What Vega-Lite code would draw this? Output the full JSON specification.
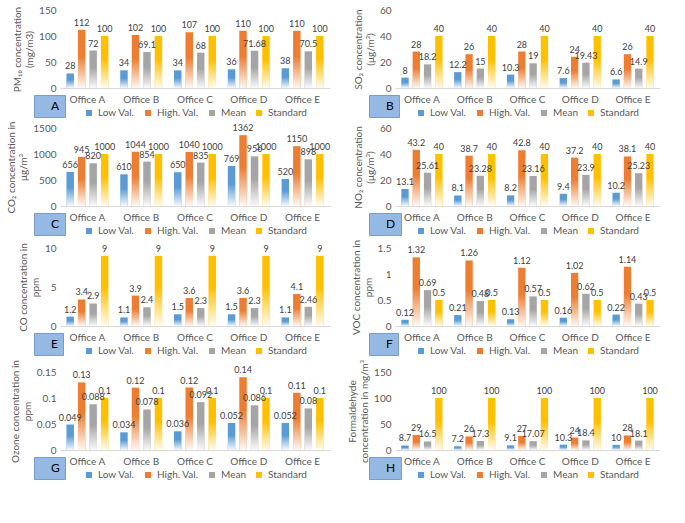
{
  "$schema": "https://vega.github.io/schema/vega-lite/v6.json",
  "background": "white",
  "padding": {"left": 6, "top": 5, "right": 6, "bottom": 4},
  "data": {"values": [
    {"panel":"A","office":"Office A","series":"Low Val.","value":28},{"panel":"A","office":"Office A","series":"High. Val.","value":112},{"panel":"A","office":"Office A","series":"Mean","value":72},{"panel":"A","office":"Office A","series":"Standard","value":100},
    {"panel":"A","office":"Office B","series":"Low Val.","value":34},{"panel":"A","office":"Office B","series":"High. Val.","value":102},{"panel":"A","office":"Office B","series":"Mean","value":69.1},{"panel":"A","office":"Office B","series":"Standard","value":100},
    {"panel":"A","office":"Office C","series":"Low Val.","value":34},{"panel":"A","office":"Office C","series":"High. Val.","value":107},{"panel":"A","office":"Office C","series":"Mean","value":68},{"panel":"A","office":"Office C","series":"Standard","value":100},
    {"panel":"A","office":"Office D","series":"Low Val.","value":36},{"panel":"A","office":"Office D","series":"High. Val.","value":110},{"panel":"A","office":"Office D","series":"Mean","value":71.68},{"panel":"A","office":"Office D","series":"Standard","value":100},
    {"panel":"A","office":"Office E","series":"Low Val.","value":38},{"panel":"A","office":"Office E","series":"High. Val.","value":110},{"panel":"A","office":"Office E","series":"Mean","value":70.5},{"panel":"A","office":"Office E","series":"Standard","value":100},

    {"panel":"B","office":"Office A","series":"Low Val.","value":8},{"panel":"B","office":"Office A","series":"High. Val.","value":28},{"panel":"B","office":"Office A","series":"Mean","value":18.2},{"panel":"B","office":"Office A","series":"Standard","value":40},
    {"panel":"B","office":"Office B","series":"Low Val.","value":12.2},{"panel":"B","office":"Office B","series":"High. Val.","value":26},{"panel":"B","office":"Office B","series":"Mean","value":15},{"panel":"B","office":"Office B","series":"Standard","value":40},
    {"panel":"B","office":"Office C","series":"Low Val.","value":10.3},{"panel":"B","office":"Office C","series":"High. Val.","value":28},{"panel":"B","office":"Office C","series":"Mean","value":19},{"panel":"B","office":"Office C","series":"Standard","value":40},
    {"panel":"B","office":"Office D","series":"Low Val.","value":7.6},{"panel":"B","office":"Office D","series":"High. Val.","value":24},{"panel":"B","office":"Office D","series":"Mean","value":19.43},{"panel":"B","office":"Office D","series":"Standard","value":40},
    {"panel":"B","office":"Office E","series":"Low Val.","value":6.6},{"panel":"B","office":"Office E","series":"High. Val.","value":26},{"panel":"B","office":"Office E","series":"Mean","value":14.9},{"panel":"B","office":"Office E","series":"Standard","value":40},

    {"panel":"C","office":"Office A","series":"Low Val.","value":656},{"panel":"C","office":"Office A","series":"High. Val.","value":945},{"panel":"C","office":"Office A","series":"Mean","value":820},{"panel":"C","office":"Office A","series":"Standard","value":1000},
    {"panel":"C","office":"Office B","series":"Low Val.","value":610},{"panel":"C","office":"Office B","series":"High. Val.","value":1044},{"panel":"C","office":"Office B","series":"Mean","value":854},{"panel":"C","office":"Office B","series":"Standard","value":1000},
    {"panel":"C","office":"Office C","series":"Low Val.","value":650},{"panel":"C","office":"Office C","series":"High. Val.","value":1040},{"panel":"C","office":"Office C","series":"Mean","value":835},{"panel":"C","office":"Office C","series":"Standard","value":1000},
    {"panel":"C","office":"Office D","series":"Low Val.","value":769},{"panel":"C","office":"Office D","series":"High. Val.","value":1362},{"panel":"C","office":"Office D","series":"Mean","value":956},{"panel":"C","office":"Office D","series":"Standard","value":1000},
    {"panel":"C","office":"Office E","series":"Low Val.","value":520},{"panel":"C","office":"Office E","series":"High. Val.","value":1150},{"panel":"C","office":"Office E","series":"Mean","value":898},{"panel":"C","office":"Office E","series":"Standard","value":1000},

    {"panel":"D","office":"Office A","series":"Low Val.","value":13.1},{"panel":"D","office":"Office A","series":"High. Val.","value":43.2},{"panel":"D","office":"Office A","series":"Mean","value":25.61},{"panel":"D","office":"Office A","series":"Standard","value":40},
    {"panel":"D","office":"Office B","series":"Low Val.","value":8.1},{"panel":"D","office":"Office B","series":"High. Val.","value":38.7},{"panel":"D","office":"Office B","series":"Mean","value":23.28},{"panel":"D","office":"Office B","series":"Standard","value":40},
    {"panel":"D","office":"Office C","series":"Low Val.","value":8.2},{"panel":"D","office":"Office C","series":"High. Val.","value":42.8},{"panel":"D","office":"Office C","series":"Mean","value":23.16},{"panel":"D","office":"Office C","series":"Standard","value":40},
    {"panel":"D","office":"Office D","series":"Low Val.","value":9.4},{"panel":"D","office":"Office D","series":"High. Val.","value":37.2},{"panel":"D","office":"Office D","series":"Mean","value":23.9},{"panel":"D","office":"Office D","series":"Standard","value":40},
    {"panel":"D","office":"Office E","series":"Low Val.","value":10.2},{"panel":"D","office":"Office E","series":"High. Val.","value":38.1},{"panel":"D","office":"Office E","series":"Mean","value":25.23},{"panel":"D","office":"Office E","series":"Standard","value":40},

    {"panel":"E","office":"Office A","series":"Low Val.","value":1.2},{"panel":"E","office":"Office A","series":"High. Val.","value":3.4},{"panel":"E","office":"Office A","series":"Mean","value":2.9},{"panel":"E","office":"Office A","series":"Standard","value":9},
    {"panel":"E","office":"Office B","series":"Low Val.","value":1.1},{"panel":"E","office":"Office B","series":"High. Val.","value":3.9},{"panel":"E","office":"Office B","series":"Mean","value":2.4},{"panel":"E","office":"Office B","series":"Standard","value":9},
    {"panel":"E","office":"Office C","series":"Low Val.","value":1.5},{"panel":"E","office":"Office C","series":"High. Val.","value":3.6},{"panel":"E","office":"Office C","series":"Mean","value":2.3},{"panel":"E","office":"Office C","series":"Standard","value":9},
    {"panel":"E","office":"Office D","series":"Low Val.","value":1.5},{"panel":"E","office":"Office D","series":"High. Val.","value":3.6},{"panel":"E","office":"Office D","series":"Mean","value":2.3},{"panel":"E","office":"Office D","series":"Standard","value":9},
    {"panel":"E","office":"Office E","series":"Low Val.","value":1.1},{"panel":"E","office":"Office E","series":"High. Val.","value":4.1},{"panel":"E","office":"Office E","series":"Mean","value":2.46},{"panel":"E","office":"Office E","series":"Standard","value":9},

    {"panel":"F","office":"Office A","series":"Low Val.","value":0.12},{"panel":"F","office":"Office A","series":"High. Val.","value":1.32},{"panel":"F","office":"Office A","series":"Mean","value":0.69},{"panel":"F","office":"Office A","series":"Standard","value":0.5},
    {"panel":"F","office":"Office B","series":"Low Val.","value":0.21},{"panel":"F","office":"Office B","series":"High. Val.","value":1.26},{"panel":"F","office":"Office B","series":"Mean","value":0.48},{"panel":"F","office":"Office B","series":"Standard","value":0.5},
    {"panel":"F","office":"Office C","series":"Low Val.","value":0.13},{"panel":"F","office":"Office C","series":"High. Val.","value":1.12},{"panel":"F","office":"Office C","series":"Mean","value":0.57},{"panel":"F","office":"Office C","series":"Standard","value":0.5},
    {"panel":"F","office":"Office D","series":"Low Val.","value":0.16},{"panel":"F","office":"Office D","series":"High. Val.","value":1.02},{"panel":"F","office":"Office D","series":"Mean","value":0.62},{"panel":"F","office":"Office D","series":"Standard","value":0.5},
    {"panel":"F","office":"Office E","series":"Low Val.","value":0.22},{"panel":"F","office":"Office E","series":"High. Val.","value":1.14},{"panel":"F","office":"Office E","series":"Mean","value":0.43},{"panel":"F","office":"Office E","series":"Standard","value":0.5},

    {"panel":"G","office":"Office A","series":"Low Val.","value":0.049},{"panel":"G","office":"Office A","series":"High. Val.","value":0.13},{"panel":"G","office":"Office A","series":"Mean","value":0.088},{"panel":"G","office":"Office A","series":"Standard","value":0.1},
    {"panel":"G","office":"Office B","series":"Low Val.","value":0.034},{"panel":"G","office":"Office B","series":"High. Val.","value":0.12},{"panel":"G","office":"Office B","series":"Mean","value":0.078},{"panel":"G","office":"Office B","series":"Standard","value":0.1},
    {"panel":"G","office":"Office C","series":"Low Val.","value":0.036},{"panel":"G","office":"Office C","series":"High. Val.","value":0.12},{"panel":"G","office":"Office C","series":"Mean","value":0.092},{"panel":"G","office":"Office C","series":"Standard","value":0.1},
    {"panel":"G","office":"Office D","series":"Low Val.","value":0.052},{"panel":"G","office":"Office D","series":"High. Val.","value":0.14},{"panel":"G","office":"Office D","series":"Mean","value":0.086},{"panel":"G","office":"Office D","series":"Standard","value":0.1},
    {"panel":"G","office":"Office E","series":"Low Val.","value":0.052},{"panel":"G","office":"Office E","series":"High. Val.","value":0.11},{"panel":"G","office":"Office E","series":"Mean","value":0.08},{"panel":"G","office":"Office E","series":"Standard","value":0.1},

    {"panel":"H","office":"Office A","series":"Low Val.","value":8.7},{"panel":"H","office":"Office A","series":"High. Val.","value":29},{"panel":"H","office":"Office A","series":"Mean","value":16.5},{"panel":"H","office":"Office A","series":"Standard","value":100},
    {"panel":"H","office":"Office B","series":"Low Val.","value":7.2},{"panel":"H","office":"Office B","series":"High. Val.","value":26},{"panel":"H","office":"Office B","series":"Mean","value":17.3},{"panel":"H","office":"Office B","series":"Standard","value":100},
    {"panel":"H","office":"Office C","series":"Low Val.","value":9.1},{"panel":"H","office":"Office C","series":"High. Val.","value":27},{"panel":"H","office":"Office C","series":"Mean","value":17.07},{"panel":"H","office":"Office C","series":"Standard","value":100},
    {"panel":"H","office":"Office D","series":"Low Val.","value":10.3},{"panel":"H","office":"Office D","series":"High. Val.","value":24},{"panel":"H","office":"Office D","series":"Mean","value":18.4},{"panel":"H","office":"Office D","series":"Standard","value":100},
    {"panel":"H","office":"Office E","series":"Low Val.","value":10},{"panel":"H","office":"Office E","series":"High. Val.","value":28},{"panel":"H","office":"Office E","series":"Mean","value":18.1},{"panel":"H","office":"Office E","series":"Standard","value":100}
  ]},
  "columns": 2,
  "spacing": {"row": 3, "column": 16},
  "resolve": {
    "scale": {"color": "independent", "y": "independent", "x": "independent", "xOffset": "independent", "opacity": "independent"},
    "legend": {"color": "independent", "opacity": "independent"}
  },
  "concat": [
    {
      "width": 270, "height": 78,
      "transform": [{"filter": "datum.panel === 'A'"}],
      "encoding": {
        "x": {"field": "office", "type": "nominal", "axis": {"title": null, "labelAngle": 0}, "scale": {"paddingInner": 0.22, "paddingOuter": 0.12}},
        "xOffset": {"field": "series", "type": "nominal", "sort": ["Low Val.", "High. Val.", "Mean", "Standard"], "scale": {"paddingInner": 0.35}},
        "y": {"field": "value", "type": "quantitative", "scale": {"domain": [0, 150]}, "axis": {"values": [0, 50, 100, 150], "format": "d", "title": ["PM₁₀ concentration", "(mg/m3)"]}}
      },
      "layer": [
        {"mark": {"type": "bar"}, "encoding": {"color": {"field": "series", "type": "nominal", "sort": ["Low Val.", "High. Val.", "Mean", "Standard"], "scale": {"domain": ["Low Val.", "High. Val.", "Mean", "Standard"], "range": ["#5B9BD5", "#ED7D31", "#A5A5A5", "#FFC000"]}, "legend": {"title": null}}}},
        {"mark": {"type": "bar", "color": {"gradient": "linear", "x1": 0, "y1": 0, "x2": 0, "y2": 1, "stops": [{"offset": 0, "color": "rgba(255,255,255,0)"}, {"offset": 0.45, "color": "rgba(255,255,255,0)"}, {"offset": 1, "color": "rgba(255,255,255,0.95)"}]}},
         "encoding": {"opacity": {"field": "panel", "type": "ordinal", "scale": {"range": [1, 1]}, "legend": {"title": null, "orient": "none", "legendX": -26, "legendY": 85, "direction": "vertical", "symbolSize": 0, "symbolStrokeWidth": 0, "symbolOpacity": 0, "labelOffset": 0, "labelFontSize": 12, "labelColor": "#000000", "fillColor": "#95B9E3", "strokeColor": "#7A9CC8", "padding": 5}}}},
        {"mark": {"type": "text", "dy": -7, "fontSize": 9, "color": "#404040"}, "encoding": {"text": {"field": "value", "type": "quantitative", "format": "~g"}}}
      ]
    },
    {
      "width": 265, "height": 78,
      "transform": [{"filter": "datum.panel === 'B'"}],
      "encoding": {
        "x": {"field": "office", "type": "nominal", "axis": {"title": null, "labelAngle": 0}, "scale": {"paddingInner": 0.22, "paddingOuter": 0.12}},
        "xOffset": {"field": "series", "type": "nominal", "sort": ["Low Val.", "High. Val.", "Mean", "Standard"], "scale": {"paddingInner": 0.35}},
        "y": {"field": "value", "type": "quantitative", "scale": {"domain": [0, 60]}, "axis": {"values": [0, 20, 40, 60], "format": "d", "title": ["SO₂ concentration", "(μg/m³)"]}}
      },
      "layer": [
        {"mark": {"type": "bar"}, "encoding": {"color": {"field": "series", "type": "nominal", "sort": ["Low Val.", "High. Val.", "Mean", "Standard"], "scale": {"domain": ["Low Val.", "High. Val.", "Mean", "Standard"], "range": ["#5B9BD5", "#ED7D31", "#A5A5A5", "#FFC000"]}, "legend": {"title": null}}}},
        {"mark": {"type": "bar", "color": {"gradient": "linear", "x1": 0, "y1": 0, "x2": 0, "y2": 1, "stops": [{"offset": 0, "color": "rgba(255,255,255,0)"}, {"offset": 0.45, "color": "rgba(255,255,255,0)"}, {"offset": 1, "color": "rgba(255,255,255,0.95)"}]}},
         "encoding": {"opacity": {"field": "panel", "type": "ordinal", "scale": {"range": [1, 1]}, "legend": {"title": null, "orient": "none", "legendX": -26, "legendY": 85, "direction": "vertical", "symbolSize": 0, "symbolStrokeWidth": 0, "symbolOpacity": 0, "labelOffset": 0, "labelFontSize": 12, "labelColor": "#000000", "fillColor": "#95B9E3", "strokeColor": "#7A9CC8", "padding": 5}}}},
        {"mark": {"type": "text", "dy": -7, "fontSize": 9, "color": "#404040"}, "encoding": {"text": {"field": "value", "type": "quantitative", "format": "~g"}}}
      ]
    },
    {
      "width": 270, "height": 78,
      "transform": [{"filter": "datum.panel === 'C'"}],
      "encoding": {
        "x": {"field": "office", "type": "nominal", "axis": {"title": null, "labelAngle": 0}, "scale": {"paddingInner": 0.22, "paddingOuter": 0.12}},
        "xOffset": {"field": "series", "type": "nominal", "sort": ["Low Val.", "High. Val.", "Mean", "Standard"], "scale": {"paddingInner": 0.35}},
        "y": {"field": "value", "type": "quantitative", "scale": {"domain": [0, 1500]}, "axis": {"values": [0, 500, 1000, 1500], "format": "d", "title": ["CO₂ concentration in", "μg/m³"]}}
      },
      "layer": [
        {"mark": {"type": "bar"}, "encoding": {"color": {"field": "series", "type": "nominal", "sort": ["Low Val.", "High. Val.", "Mean", "Standard"], "scale": {"domain": ["Low Val.", "High. Val.", "Mean", "Standard"], "range": ["#5B9BD5", "#ED7D31", "#A5A5A5", "#FFC000"]}, "legend": {"title": null}}}},
        {"mark": {"type": "bar", "color": {"gradient": "linear", "x1": 0, "y1": 0, "x2": 0, "y2": 1, "stops": [{"offset": 0, "color": "rgba(255,255,255,0)"}, {"offset": 0.45, "color": "rgba(255,255,255,0)"}, {"offset": 1, "color": "rgba(255,255,255,0.95)"}]}},
         "encoding": {"opacity": {"field": "panel", "type": "ordinal", "scale": {"range": [1, 1]}, "legend": {"title": null, "orient": "none", "legendX": -26, "legendY": 85, "direction": "vertical", "symbolSize": 0, "symbolStrokeWidth": 0, "symbolOpacity": 0, "labelOffset": 0, "labelFontSize": 12, "labelColor": "#000000", "fillColor": "#95B9E3", "strokeColor": "#7A9CC8", "padding": 5}}}},
        {"mark": {"type": "text", "dy": -7, "fontSize": 9, "color": "#404040"}, "encoding": {"text": {"field": "value", "type": "quantitative", "format": "~g"}}}
      ]
    },
    {
      "width": 265, "height": 78,
      "transform": [{"filter": "datum.panel === 'D'"}],
      "encoding": {
        "x": {"field": "office", "type": "nominal", "axis": {"title": null, "labelAngle": 0}, "scale": {"paddingInner": 0.22, "paddingOuter": 0.12}},
        "xOffset": {"field": "series", "type": "nominal", "sort": ["Low Val.", "High. Val.", "Mean", "Standard"], "scale": {"paddingInner": 0.35}},
        "y": {"field": "value", "type": "quantitative", "scale": {"domain": [0, 60]}, "axis": {"values": [0, 20, 40, 60], "format": "d", "title": ["NO₂ concentration", "(μg/m³)"]}}
      },
      "layer": [
        {"mark": {"type": "bar"}, "encoding": {"color": {"field": "series", "type": "nominal", "sort": ["Low Val.", "High. Val.", "Mean", "Standard"], "scale": {"domain": ["Low Val.", "High. Val.", "Mean", "Standard"], "range": ["#5B9BD5", "#ED7D31", "#A5A5A5", "#FFC000"]}, "legend": {"title": null}}}},
        {"mark": {"type": "bar", "color": {"gradient": "linear", "x1": 0, "y1": 0, "x2": 0, "y2": 1, "stops": [{"offset": 0, "color": "rgba(255,255,255,0)"}, {"offset": 0.45, "color": "rgba(255,255,255,0)"}, {"offset": 1, "color": "rgba(255,255,255,0.95)"}]}},
         "encoding": {"opacity": {"field": "panel", "type": "ordinal", "scale": {"range": [1, 1]}, "legend": {"title": null, "orient": "none", "legendX": -26, "legendY": 85, "direction": "vertical", "symbolSize": 0, "symbolStrokeWidth": 0, "symbolOpacity": 0, "labelOffset": 0, "labelFontSize": 12, "labelColor": "#000000", "fillColor": "#95B9E3", "strokeColor": "#7A9CC8", "padding": 5}}}},
        {"mark": {"type": "text", "dy": -7, "fontSize": 9, "color": "#404040"}, "encoding": {"text": {"field": "value", "type": "quantitative", "format": "~g"}}}
      ]
    },
    {
      "width": 270, "height": 78,
      "transform": [{"filter": "datum.panel === 'E'"}],
      "encoding": {
        "x": {"field": "office", "type": "nominal", "axis": {"title": null, "labelAngle": 0}, "scale": {"paddingInner": 0.22, "paddingOuter": 0.12}},
        "xOffset": {"field": "series", "type": "nominal", "sort": ["Low Val.", "High. Val.", "Mean", "Standard"], "scale": {"paddingInner": 0.35}},
        "y": {"field": "value", "type": "quantitative", "scale": {"domain": [0, 10]}, "axis": {"values": [0, 5, 10], "format": "d", "title": ["CO concentration in", "ppm"]}}
      },
      "layer": [
        {"mark": {"type": "bar"}, "encoding": {"color": {"field": "series", "type": "nominal", "sort": ["Low Val.", "High. Val.", "Mean", "Standard"], "scale": {"domain": ["Low Val.", "High. Val.", "Mean", "Standard"], "range": ["#5B9BD5", "#ED7D31", "#A5A5A5", "#FFC000"]}, "legend": {"title": null}}}},
        {"mark": {"type": "bar", "color": {"gradient": "linear", "x1": 0, "y1": 0, "x2": 0, "y2": 1, "stops": [{"offset": 0, "color": "rgba(255,255,255,0)"}, {"offset": 0.45, "color": "rgba(255,255,255,0)"}, {"offset": 1, "color": "rgba(255,255,255,0.95)"}]}},
         "encoding": {"opacity": {"field": "panel", "type": "ordinal", "scale": {"range": [1, 1]}, "legend": {"title": null, "orient": "none", "legendX": -26, "legendY": 85, "direction": "vertical", "symbolSize": 0, "symbolStrokeWidth": 0, "symbolOpacity": 0, "labelOffset": 0, "labelFontSize": 12, "labelColor": "#000000", "fillColor": "#95B9E3", "strokeColor": "#7A9CC8", "padding": 5}}}},
        {"mark": {"type": "text", "dy": -7, "fontSize": 9, "color": "#404040"}, "encoding": {"text": {"field": "value", "type": "quantitative", "format": "~g"}}}
      ]
    },
    {
      "width": 265, "height": 78,
      "transform": [{"filter": "datum.panel === 'F'"}],
      "encoding": {
        "x": {"field": "office", "type": "nominal", "axis": {"title": null, "labelAngle": 0}, "scale": {"paddingInner": 0.22, "paddingOuter": 0.12}},
        "xOffset": {"field": "series", "type": "nominal", "sort": ["Low Val.", "High. Val.", "Mean", "Standard"], "scale": {"paddingInner": 0.35}},
        "y": {"field": "value", "type": "quantitative", "scale": {"domain": [0, 1.5]}, "axis": {"values": [0, 0.5, 1, 1.5], "format": ".1~f", "title": ["VOC concentration in", "ppm"]}}
      },
      "layer": [
        {"mark": {"type": "bar"}, "encoding": {"color": {"field": "series", "type": "nominal", "sort": ["Low Val.", "High. Val.", "Mean", "Standard"], "scale": {"domain": ["Low Val.", "High. Val.", "Mean", "Standard"], "range": ["#5B9BD5", "#ED7D31", "#A5A5A5", "#FFC000"]}, "legend": {"title": null}}}},
        {"mark": {"type": "bar", "color": {"gradient": "linear", "x1": 0, "y1": 0, "x2": 0, "y2": 1, "stops": [{"offset": 0, "color": "rgba(255,255,255,0)"}, {"offset": 0.45, "color": "rgba(255,255,255,0)"}, {"offset": 1, "color": "rgba(255,255,255,0.95)"}]}},
         "encoding": {"opacity": {"field": "panel", "type": "ordinal", "scale": {"range": [1, 1]}, "legend": {"title": null, "orient": "none", "legendX": -26, "legendY": 85, "direction": "vertical", "symbolSize": 0, "symbolStrokeWidth": 0, "symbolOpacity": 0, "labelOffset": 0, "labelFontSize": 12, "labelColor": "#000000", "fillColor": "#95B9E3", "strokeColor": "#7A9CC8", "padding": 5}}}},
        {"mark": {"type": "text", "dy": -7, "fontSize": 9, "color": "#404040"}, "encoding": {"text": {"field": "value", "type": "quantitative", "format": "~g"}}}
      ]
    },
    {
      "width": 270, "height": 78,
      "transform": [{"filter": "datum.panel === 'G'"}],
      "encoding": {
        "x": {"field": "office", "type": "nominal", "axis": {"title": null, "labelAngle": 0}, "scale": {"paddingInner": 0.22, "paddingOuter": 0.12}},
        "xOffset": {"field": "series", "type": "nominal", "sort": ["Low Val.", "High. Val.", "Mean", "Standard"], "scale": {"paddingInner": 0.35}},
        "y": {"field": "value", "type": "quantitative", "scale": {"domain": [0, 0.15]}, "axis": {"values": [0, 0.05, 0.1, 0.15], "format": ".2~f", "title": ["Ozone concentration in", "ppm"]}}
      },
      "layer": [
        {"mark": {"type": "bar"}, "encoding": {"color": {"field": "series", "type": "nominal", "sort": ["Low Val.", "High. Val.", "Mean", "Standard"], "scale": {"domain": ["Low Val.", "High. Val.", "Mean", "Standard"], "range": ["#5B9BD5", "#ED7D31", "#A5A5A5", "#FFC000"]}, "legend": {"title": null}}}},
        {"mark": {"type": "bar", "color": {"gradient": "linear", "x1": 0, "y1": 0, "x2": 0, "y2": 1, "stops": [{"offset": 0, "color": "rgba(255,255,255,0)"}, {"offset": 0.45, "color": "rgba(255,255,255,0)"}, {"offset": 1, "color": "rgba(255,255,255,0.95)"}]}},
         "encoding": {"opacity": {"field": "panel", "type": "ordinal", "scale": {"range": [1, 1]}, "legend": {"title": null, "orient": "none", "legendX": -26, "legendY": 85, "direction": "vertical", "symbolSize": 0, "symbolStrokeWidth": 0, "symbolOpacity": 0, "labelOffset": 0, "labelFontSize": 12, "labelColor": "#000000", "fillColor": "#95B9E3", "strokeColor": "#7A9CC8", "padding": 5}}}},
        {"mark": {"type": "text", "dy": -7, "fontSize": 9, "color": "#404040"}, "encoding": {"text": {"field": "value", "type": "quantitative", "format": "~g"}}}
      ]
    },
    {
      "width": 265, "height": 78,
      "transform": [{"filter": "datum.panel === 'H'"}],
      "encoding": {
        "x": {"field": "office", "type": "nominal", "axis": {"title": null, "labelAngle": 0}, "scale": {"paddingInner": 0.22, "paddingOuter": 0.12}},
        "xOffset": {"field": "series", "type": "nominal", "sort": ["Low Val.", "High. Val.", "Mean", "Standard"], "scale": {"paddingInner": 0.35}},
        "y": {"field": "value", "type": "quantitative", "scale": {"domain": [0, 150]}, "axis": {"values": [0, 50, 100, 150], "format": "d", "title": ["Formaldehyde", "concentration in mg/m³"]}}
      },
      "layer": [
        {"mark": {"type": "bar"}, "encoding": {"color": {"field": "series", "type": "nominal", "sort": ["Low Val.", "High. Val.", "Mean", "Standard"], "scale": {"domain": ["Low Val.", "High. Val.", "Mean", "Standard"], "range": ["#5B9BD5", "#ED7D31", "#A5A5A5", "#FFC000"]}, "legend": {"title": null}}}},
        {"mark": {"type": "bar", "color": {"gradient": "linear", "x1": 0, "y1": 0, "x2": 0, "y2": 1, "stops": [{"offset": 0, "color": "rgba(255,255,255,0)"}, {"offset": 0.45, "color": "rgba(255,255,255,0)"}, {"offset": 1, "color": "rgba(255,255,255,0.95)"}]}},
         "encoding": {"opacity": {"field": "panel", "type": "ordinal", "scale": {"range": [1, 1]}, "legend": {"title": null, "orient": "none", "legendX": -26, "legendY": 85, "direction": "vertical", "symbolSize": 0, "symbolStrokeWidth": 0, "symbolOpacity": 0, "labelOffset": 0, "labelFontSize": 12, "labelColor": "#000000", "fillColor": "#95B9E3", "strokeColor": "#7A9CC8", "padding": 5}}}},
        {"mark": {"type": "text", "dy": -7, "fontSize": 9, "color": "#404040"}, "encoding": {"text": {"field": "value", "type": "quantitative", "format": "~g"}}}
      ]
    }
  ],
  "config": {
    "font": "Lato",
    "view": {"stroke": null},
    "axis": {"labelColor": "#595959", "labelFontSize": 10, "titleColor": "#595959", "titleFontSize": 10, "titleFontWeight": "normal", "ticks": false, "grid": false, "domain": false, "labelPadding": 4, "titlePadding": 4},
    "axisX": {"domain": true, "domainColor": "#d9d9d9", "labelPadding": 6},
    "legend": {"orient": "bottom", "direction": "horizontal", "symbolType": "square", "symbolSize": 36, "labelFontSize": 10, "labelColor": "#595959", "columnPadding": 8, "symbolStrokeWidth": 0, "offset": 4, "padding": 0, "layout": {"bottom": {"anchor": "middle"}}}
  }
}
